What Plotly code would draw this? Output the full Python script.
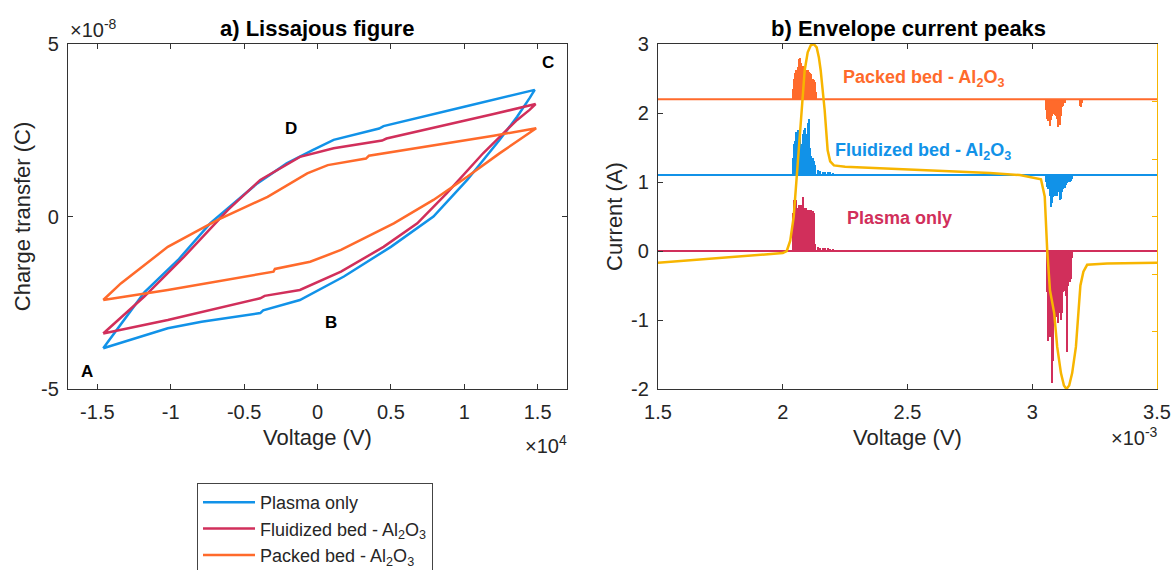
import plotly.graph_objects as go

FONT = "Liberation Sans, Arial, sans-serif"
BLUE = "#1192E8"
RED = "#D12F5B"
ORANGE = "#FF6A2B"
YELLOW = "#F7B500"
AX = "#333333"

# ---------------- a) Lissajous figure (V in 1e4 V, Q in 1e-8 C) ----------------
plasma_v = [-1.46, -1.02, -0.79, -0.39, -0.37, -0.12, 0.18, 0.50, 0.79, 1.02, 1.24, 1.36, 1.445, 1.48,
            1.00, 0.45, 0.42, 0.11, -0.03, -0.21, -0.41, -0.73, -0.95, -1.18, -1.46]
plasma_q = [-3.82, -3.24, -3.05, -2.80, -2.72, -2.42, -1.74, -0.88, 0.00, 1.06, 2.22, 2.89, 3.43, 3.67,
            3.18, 2.62, 2.55, 2.22, 1.93, 1.54, 0.96, -0.19, -1.26, -2.20, -3.82]

fluid_v = [-1.46, -1.02, -0.39, -0.36, -0.12, 0.16, 0.45, 0.68, 0.88, 1.13, 1.36, 1.445, 1.486,
           1.20, 0.47, 0.44, 0.11, -0.12, -0.39, -0.61, -0.91, -1.18, -1.46]
fluid_q = [-3.39, -3.00, -2.37, -2.30, -2.13, -1.60, -0.88, -0.20, 0.67, 1.84, 2.80, 3.09, 3.26,
           2.97, 2.26, 2.20, 1.98, 1.73, 1.06, 0.19, -1.17, -2.32, -3.39]

packed_v = [-1.46, -1.02, -0.30, -0.29, -0.05, 0.16, 0.52, 0.79, 1.02, 1.24, 1.49,
            1.20, 0.35, 0.33, 0.07, -0.07, -0.34, -0.68, -1.02, -1.34, -1.46]
packed_q = [-2.42, -2.13, -1.60, -1.52, -1.31, -0.97, -0.20, 0.48, 1.15, 1.83, 2.56,
            2.34, 1.76, 1.68, 1.49, 1.25, 0.57, -0.10, -0.88, -1.94, -2.42]

point_names = ["A", "B", "C", "D"]
point_v = [-1.57, 0.09, 1.57, -0.18]
point_q = [-4.5, -3.06, 4.47, 2.54]

# ---------------- b) Envelope current peaks (t in 1e-3 s) ----------------
t_range = [1.5, 3.5]
base_plasma, base_fluid, base_packed = 0.0, 1.1, 2.2

plasma_pos_t = [2.040, 2.045, 2.050, 2.055, 2.060, 2.065, 2.070, 2.075, 2.080, 2.085, 2.090, 2.095, 2.100,
                2.105, 2.110, 2.115, 2.120, 2.125, 2.130, 2.140, 2.150, 2.160, 2.170, 2.180, 2.190, 2.200]
plasma_pos_i = [0.55, 0.74, 0.70, 0.74, 0.62, 0.67, 0.64, 0.67, 0.78, 0.62, 0.60, 0.62, 0.60,
                0.60, 0.58, 0.60, 0.58, 0.55, 0.10, 0.06, 0.05, 0.05, 0.04, 0.04, 0.03, 0.03]
plasma_neg_t = [3.060, 3.065, 3.070, 3.075, 3.080, 3.085, 3.090, 3.095, 3.100, 3.105, 3.110,
                3.115, 3.120, 3.125, 3.130, 3.135, 3.140, 3.145, 3.150, 3.155, 3.160]
plasma_neg_i = [-0.60, -1.31, -1.25, -1.00, -1.91, -1.60, -1.05, -0.85, -0.95, -1.05, -0.90,
                -1.00, -0.90, -0.60, -0.58, -0.65, -1.46, -0.50, -0.45, -0.40, -0.10]

fluid_pos_t = [2.040, 2.045, 2.050, 2.055, 2.060, 2.065, 2.070, 2.075, 2.080, 2.085, 2.090, 2.095, 2.100,
               2.105, 2.110, 2.115, 2.120, 2.125, 2.130, 2.140, 2.150, 2.160, 2.170, 2.180, 2.190, 2.200]
fluid_pos_i = [1.35, 1.55, 1.60, 1.72, 1.75, 1.60, 1.65, 1.55, 1.70, 1.75, 1.78, 1.70, 1.85,
               1.91, 1.50, 1.38, 1.35, 1.30, 1.25, 1.18, 1.16, 1.15, 1.15, 1.14, 1.14, 1.13]
fluid_neg_t = [3.055, 3.060, 3.065, 3.070, 3.075, 3.080, 3.085, 3.090, 3.095, 3.100, 3.105,
               3.110, 3.115, 3.120, 3.125, 3.130, 3.135, 3.140, 3.145, 3.150, 3.155, 3.160]
fluid_neg_i = [1.00, 0.93, 0.90, 0.80, 0.64, 0.70, 0.78, 0.80, 0.82, 0.79, 0.85,
               0.74, 0.75, 0.85, 0.90, 0.92, 0.95, 0.98, 1.00, 1.00, 1.02, 1.05]

packed_pos_t = [2.040, 2.045, 2.050, 2.055, 2.060, 2.065, 2.070, 2.075, 2.080, 2.085, 2.090, 2.095,
                2.100, 2.105, 2.110, 2.115, 2.120, 2.125, 2.130, 2.135]
packed_pos_i = [2.35, 2.50, 2.58, 2.62, 2.66, 2.78, 2.80, 2.72, 2.68, 2.66, 2.64, 2.62,
                2.63, 2.60, 2.58, 2.56, 2.50, 2.48, 2.45, 2.30]
packed_neg_t = [3.055, 3.060, 3.065, 3.070, 3.075, 3.080, 3.085, 3.090, 3.095, 3.100, 3.105,
                3.110, 3.115, 3.120, 3.125, 3.130, 3.190, 3.195, 3.200]
packed_neg_i = [2.05, 1.92, 1.88, 1.81, 1.90, 1.95, 1.98, 1.97, 1.95, 1.92, 1.80,
                1.82, 1.95, 2.08, 2.10, 2.15, 2.10, 2.09, 2.15]

voltage_t = [1.50, 2.000, 2.016, 2.030, 2.044, 2.055, 2.064, 2.076, 2.088, 2.100, 2.112, 2.124, 2.136,
             2.145, 2.152, 2.168, 2.180, 2.190, 2.205, 2.250, 2.390, 2.600, 2.830, 2.950, 3.035, 3.050,
             3.060, 3.071, 3.088, 3.100, 3.115, 3.127, 3.137, 3.148, 3.160, 3.175, 3.184, 3.193, 3.205,
             3.220, 3.300, 3.500]
voltage_v = [-0.17, -0.03, 0.0, 0.15, 0.5, 0.98, 1.46, 2.04, 2.62, 2.88, 2.98, 3.0, 2.95,
             2.8, 2.62, 2.04, 1.46, 1.3, 1.24, 1.22, 1.2, 1.17, 1.13, 1.1, 1.04, 0.79,
             0.01, -0.57, -0.9, -1.39, -1.77, -1.95, -2.0, -1.95, -1.77, -1.39, -0.9, -0.5, -0.3,
             -0.2, -0.18, -0.17]

fig = go.Figure()

# Lissajous loops
for name, v, q, c in [("Plasma only", plasma_v, plasma_q, BLUE),
                      ("Fluidized bed - Al<sub>2</sub>O<sub>3</sub>", fluid_v, fluid_q, RED),
                      ("Packed bed - Al<sub>2</sub>O<sub>3</sub>", packed_v, packed_q, ORANGE)]:
    fig.add_trace(go.Scatter(x=v, y=q, mode="lines", name=name, line=dict(color=c, width=2.5),
                             xaxis="x", yaxis="y"))

# Envelope current peaks: baselines + bursts
for base, c in [(base_plasma, RED), (base_fluid, BLUE), (base_packed, ORANGE)]:
    fig.add_trace(go.Scatter(x=t_range, y=[base, base], mode="lines", line=dict(color=c, width=2),
                             showlegend=False, xaxis="x2", yaxis="y2"))

for t, vals, base, c in [(plasma_pos_t, plasma_pos_i, base_plasma, RED),
                         (plasma_neg_t, plasma_neg_i, base_plasma, RED),
                         (fluid_pos_t, fluid_pos_i, base_fluid, BLUE),
                         (fluid_neg_t, fluid_neg_i, base_fluid, BLUE),
                         (packed_pos_t, packed_pos_i, base_packed, ORANGE),
                         (packed_neg_t, packed_neg_i, base_packed, ORANGE)]:
    fig.add_trace(go.Bar(x=t, y=[v - base for v in vals], base=base, width=0.0042,
                         marker=dict(color=c, line=dict(width=0)), showlegend=False,
                         xaxis="x2", yaxis="y2"))

fig.add_trace(go.Scatter(x=voltage_t, y=voltage_v, mode="lines", line=dict(color=YELLOW, width=2.5),
                         showlegend=False, xaxis="x2", yaxis="y3"))

TXT = "#262626"
ax_common = dict(showline=True, linecolor=AX, linewidth=1.3, ticks="inside", ticklen=5, tickcolor=AX,
                 showgrid=False, zeroline=False, automargin=False,
                 tickfont=dict(family=FONT, size=20, color=TXT))
title_font = dict(family=FONT, size=22, color=TXT)

y_dom = [1 - 389 / 570, 1 - 44 / 570]
fig.update_layout(
    width=1174, height=570, margin=dict(l=0, r=0, t=0, b=0, autoexpand=False),
    paper_bgcolor="white", plot_bgcolor="white", barmode="overlay", bargap=0,
    font=dict(family=FONT, color=TXT),
    xaxis=dict(domain=[68 / 1174, 567 / 1174], range=[-1.7, 1.7], anchor="y", mirror="ticks",
               tickvals=[-1.5, -1, -0.5, 0, 0.5, 1, 1.5], ticktext=["-1.5", "-1", "-0.5", "0", "0.5", "1", "1.5"],
               ticklabelstandoff=5,
               title=dict(text="Voltage (V)", font=title_font, standoff=7),
               **ax_common),
    yaxis=dict(domain=y_dom, range=[-5, 5], anchor="x", mirror="ticks", tickvals=[-5, 0, 5],
               ticktext=["-5", "0", "5"], ticklabelstandoff=4,
               title=dict(text="Charge transfer (C)", font=title_font, standoff=4),
               **ax_common),
    xaxis2=dict(domain=[658 / 1174, 1157 / 1174], range=[1.5, 3.5], anchor="y2", mirror="ticks",
                tickvals=[1.5, 2, 2.5, 3, 3.5], ticktext=["1.5", "2", "2.5", "3", "3.5"],
                ticklabelstandoff=5,
                title=dict(text="Voltage (V)", font=title_font, standoff=7),
                **ax_common),
    yaxis2=dict(domain=y_dom, range=[-2, 3], anchor="x2", tickvals=[-2, -1, 0, 1, 2, 3],
                ticktext=["-2", "-1", "0", "1", "2", "3"], ticklabelstandoff=4,
                title=dict(text="Current (A)", font=title_font, standoff=2),
                **ax_common),
    yaxis3=dict(overlaying="y2", side="right", anchor="x2", range=[-2, 3], tick0=-2, dtick=5 / 6,
                showline=True, linecolor=YELLOW, linewidth=1.3, ticks="inside", ticklen=5, tickcolor=YELLOW,
                showticklabels=False, showgrid=False, zeroline=False, automargin=False),
    legend=dict(x=197 / 1174, y=1 - 483 / 570, xanchor="left", yanchor="top", bgcolor="white",
                bordercolor="#444444", borderwidth=1, font=dict(family=FONT, size=18, color=TXT),
                itemwidth=52, tracegroupgap=0),
)

annotations = [
    dict(text="<b>a) Lissajous figure</b>", x=317 / 1174, y=1 - 28 / 570, xref="paper", yref="paper",
         xanchor="center", yanchor="middle", showarrow=False, font=dict(family=FONT, size=22, color="black")),
    dict(text="<b>b) Envelope current peaks</b>", x=908 / 1174, y=1 - 28 / 570, xref="paper", yref="paper",
         xanchor="center", yanchor="middle", showarrow=False, font=dict(family=FONT, size=22, color="black")),
    dict(text="×10<sup>-8</sup>", x=68 / 1174, y=1 - 43 / 570, xref="paper", yref="paper", xanchor="left",
         yanchor="bottom", showarrow=False, font=dict(family=FONT, size=20, color=TXT)),
    dict(text="×10<sup>4</sup>", x=569 / 1174, y=1 - 430 / 570, xref="paper", yref="paper", xanchor="right",
         yanchor="top", showarrow=False, font=dict(family=FONT, size=20, color=TXT)),
    dict(text="×10<sup>-3</sup>", x=1160 / 1174, y=1 - 422 / 570, xref="paper", yref="paper", xanchor="right",
         yanchor="top", showarrow=False, font=dict(family=FONT, size=20, color=TXT)),
    dict(text="<b>Packed bed - Al<sub>2</sub>O<sub>3</sub></b>", x=2.564, y=2.5, xref="x2", yref="y2",
         xanchor="center", yanchor="middle", showarrow=False, font=dict(family=FONT, size=18, color=ORANGE)),
    dict(text="<b>Fluidized bed - Al<sub>2</sub>O<sub>3</sub></b>", x=2.564, y=1.44, xref="x2", yref="y2",
         xanchor="center", yanchor="middle", showarrow=False, font=dict(family=FONT, size=18, color=BLUE)),
    dict(text="<b>Plasma only</b>", x=2.468, y=0.48, xref="x2", yref="y2",
         xanchor="center", yanchor="middle", showarrow=False, font=dict(family=FONT, size=18, color=RED)),
]
for n, v, q in zip(point_names, point_v, point_q):
    annotations.append(dict(text=f"<b>{n}</b>", x=v, y=q, xref="x", yref="y", showarrow=False,
                            xanchor="center", yanchor="middle",
                            font=dict(family=FONT, size=17, color="black")))
fig.update_layout(annotations=annotations)

fig.write_html("out.html", config={"displayModeBar": False},
               post_script="document.body.style.margin='0px';")
